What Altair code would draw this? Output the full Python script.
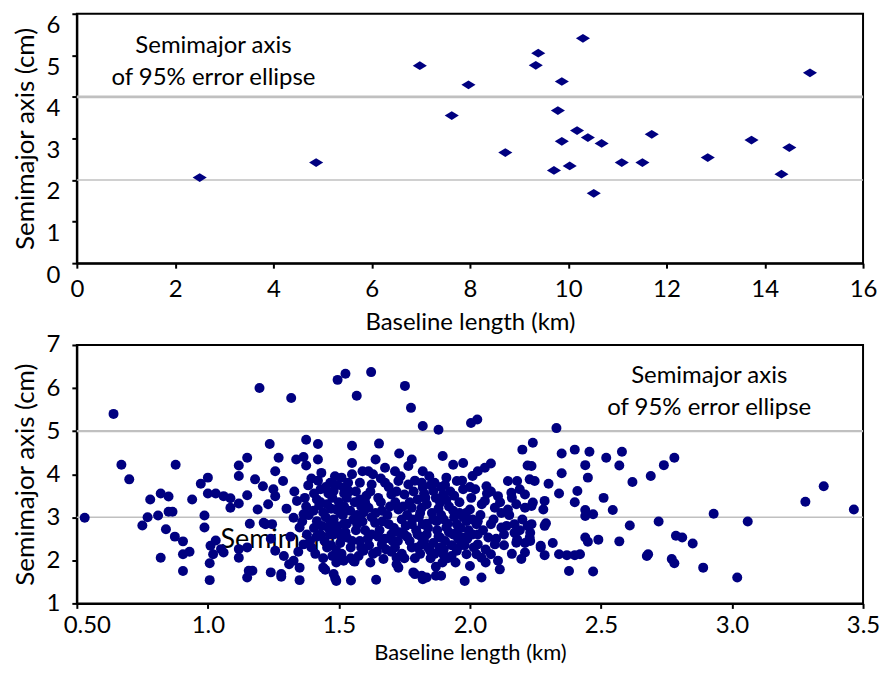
import altair as alt
import pandas as pd

# ---------------- Top panel data (longer baselines) ----------------
top_baseline_km = [2.50, 4.87, 6.98, 7.63, 7.97, 8.72, 9.34, 9.39, 9.71, 9.79, 9.87, 9.87, 10.03,
                   10.18, 10.30, 10.40, 10.52, 10.68, 11.09, 11.51, 11.70, 12.84, 13.73, 14.34,
                   14.50, 14.92]
top_semimajor_cm = [2.06, 2.42, 4.75, 3.55, 4.29, 2.66, 4.76, 5.05, 2.23, 3.67, 4.37, 2.93, 2.34,
                    3.19, 5.41, 3.02, 1.68, 2.88, 2.42, 2.42, 3.10, 2.54, 2.96, 2.14, 2.78, 4.58]
top_rule_levels = [4, 2]
top_x_ticks = [0, 2, 4, 6, 8, 10, 12, 14, 16]
top_y_ticks = [0, 1, 2, 3, 4, 5, 6]

# ---------------- Bottom panel data (short baselines) ----------------
high_pts = [(0.64, 5.40), (1.197, 6.00), (1.318, 5.77), (1.495, 6.19), (1.525, 6.33), (1.568, 5.82),
            (1.623, 6.37), (1.752, 6.05), (1.775, 5.54), (1.82, 5.12), (1.88, 5.03), (2.004, 5.19),
            (2.028, 5.27), (2.33, 5.07)]

left_pts = [(0.53, 2.99), (0.67, 4.22), (0.70, 3.88), (0.75, 2.81), (0.77, 3.00), (0.78, 3.41),
            (0.81, 3.04), (0.82, 3.55), (0.82, 2.06), (0.84, 2.72), (0.85, 3.48), (0.85, 3.13),
            (0.865, 3.13), (0.874, 2.55), (0.877, 4.22), (0.905, 2.44), (0.905, 2.14), (0.905, 1.75),
            (0.93, 2.20), (0.94, 3.41), (0.973, 3.78), (0.987, 3.04), (0.987, 2.76), (1.0, 3.92),
            (1.0, 3.55), (1.007, 1.93), (1.007, 1.54), (1.01, 2.34), (1.02, 2.14), (1.03, 2.46),
            (1.03, 3.55), (1.05, 2.26), (1.06, 2.18), (1.06, 3.49), (1.086, 3.44), (1.086, 3.22),
            (1.118, 3.32), (1.118, 3.96), (1.118, 4.20), (1.118, 2.26), (1.118, 2.06), (1.15, 4.38),
            (1.15, 3.51), (1.15, 2.30), (1.156, 1.76), (1.15, 1.60), (1.16, 2.85), (1.17, 1.76),
            (1.18, 3.88), (1.19, 3.18), (1.21, 3.72), (1.213, 2.87), (1.22, 2.84), (1.236, 4.70),
            (1.24, 1.72), (1.25, 3.65), (1.245, 2.84), (1.23, 3.30), (1.24, 2.50)]

core_pts = [(1.27, 4.38), (1.337, 4.34), (1.365, 4.40), (1.375, 4.20), (1.375, 4.80), (1.42, 4.70),
            (1.42, 4.34), (1.257, 4.07), (1.287, 3.84), (1.433, 4.03), (1.55, 4.26), (1.55, 4.66),
            (1.64, 4.34), (1.653, 4.71), (1.73, 4.48), (1.778, 4.34), (1.82, 4.07), (1.59, 4.07),
            (1.383, 3.74), (1.28, 1.62), (1.35, 1.54), (1.448, 1.78), (1.486, 1.58), (1.546, 1.53),
            (1.642, 1.55), (1.56, 1.97), (1.62, 1.95), (1.784, 1.72), (1.82, 1.56), (1.72, 1.91),
            (1.257, 3.49), (1.34, 3.38), (1.37, 3.45), (1.327, 2.99), (1.365, 3.07), (1.35, 2.76),
            (1.378, 2.60), (1.365, 2.37), (1.257, 2.22), (1.29, 2.10), (1.327, 1.99), (1.35, 1.83),
            (1.31, 1.91), (1.28, 1.68),
            (1.51, 3.92), (1.55, 4.00), (1.467, 3.80), (1.43, 3.65), (1.48, 3.61), (1.518, 3.69),
            (1.403, 3.15), (1.44, 3.11), (1.49, 3.18), (1.543, 3.15), (1.594, 3.11), (1.416, 2.91),
            (1.467, 2.91), (1.518, 2.84), (1.57, 2.84), (1.43, 2.60), (1.48, 2.60), (1.53, 2.53),
            (1.58, 2.45), (1.455, 2.30), (1.49, 2.22), (1.594, 2.22), (1.44, 1.83), (1.49, 1.95),
            (1.518, 1.99), (1.555, 1.99), (1.48, 1.68), (1.49, 1.52), (1.53, 3.45), (1.58, 3.41),
            (1.416, 3.41), (1.455, 3.30),
            (1.613, 4.07), (1.676, 4.15), (1.714, 4.07), (1.765, 4.19), (1.625, 3.76), (1.676, 3.80),
            (1.727, 3.84), (1.765, 3.76), (1.816, 3.80), (1.65, 3.45), (1.70, 3.53), (1.75, 3.53),
            (1.80, 3.41), (1.613, 3.22), (1.664, 3.15), (1.727, 3.18), (1.778, 3.22), (1.816, 3.22),
            (1.638, 2.87), (1.69, 2.84), (1.74, 2.95), (1.778, 2.84), (1.625, 2.60), (1.70, 2.60),
            (1.75, 2.60), (1.80, 2.60), (1.664, 2.37), (1.714, 2.30), (1.778, 2.30), (1.816, 2.37),
            (1.67, 2.03), (1.72, 2.06), (1.727, 1.83), (1.79, 1.68), (1.816, 1.64),
            (1.896, 4.42), (1.936, 4.22), (1.974, 4.26), (1.91, 3.92), (1.95, 3.84), (2.01, 3.96),
            (1.82, 3.69), (1.86, 3.61), (1.898, 3.53), (1.974, 3.65), (2.02, 3.65), (1.835, 3.30),
            (1.886, 3.34), (1.936, 3.15), (2.0, 3.18), (1.82, 2.84), (1.873, 2.91), (1.91, 2.76),
            (1.95, 2.84), (1.987, 2.91), (2.025, 2.84), (1.835, 2.60), (1.886, 2.53), (1.936, 2.60),
            (1.974, 2.53), (2.01, 2.60), (1.848, 2.22), (1.898, 2.14), (1.95, 2.22), (1.987, 2.14),
            (2.025, 2.14), (1.835, 1.60), (1.87, 1.64), (1.89, 1.64), (1.98, 1.52), (2.0, 1.87),
            (2.08, 4.25), (2.22, 4.20), (2.24, 4.73), (2.20, 4.57), (2.03, 4.07), (2.057, 4.15),
            (2.145, 3.84), (2.18, 3.84), (2.228, 3.88), (2.063, 3.72), (2.107, 3.49), (2.158, 3.57),
            (2.21, 3.53), (2.057, 3.38), (2.095, 3.22), (2.145, 3.18), (2.177, 3.30), (2.21, 3.22),
            (2.235, 3.26), (2.03, 2.91), (2.08, 2.84), (2.12, 2.76), (2.17, 2.84), (2.22, 2.80),
            (2.07, 2.53), (2.13, 2.60), (2.18, 2.49), (2.228, 2.53), (2.03, 2.37), (2.095, 2.37),
            (2.177, 2.41), (2.044, 2.06), (2.08, 2.14), (2.107, 1.99), (2.044, 1.60), (2.114, 1.79),
            (2.196, 2.03), (2.21, 2.18), (2.06, 1.95),
            (2.35, 4.48), (2.40, 4.57), (2.35, 4.02), (2.30, 3.78), (2.34, 3.55), (2.41, 3.61),
            (2.40, 3.35), (2.285, 3.38), (2.28, 3.18), (2.29, 2.86), (2.316, 2.40), (2.27, 2.30),
            (2.285, 2.12), (2.34, 2.14), (2.37, 2.12), (2.40, 2.12), (2.378, 1.75), (2.17, 2.64),
            (2.23, 2.64), (2.23, 2.45), (2.235, 4.19), (2.247, 3.84), (2.24, 3.34), (2.44, 3.03),
            (2.235, 2.84), (2.285, 2.80), (2.27, 2.34)]

core_hidden_pts = [(1.405, 2.75), (1.425, 3.28), (1.445, 2.45), (1.46, 3.55), (1.475, 2.10),
                   (1.49, 2.80), (1.50, 3.35), (1.505, 2.40), (1.515, 3.05), (1.525, 2.65),
                   (1.535, 3.80), (1.545, 2.30), (1.555, 2.95), (1.565, 3.60), (1.575, 2.10),
                   (1.585, 3.25), (1.60, 2.70), (1.605, 3.50), (1.615, 2.35), (1.625, 3.00),
                   (1.63, 4.00), (1.645, 2.20), (1.655, 2.70), (1.66, 3.35), (1.675, 2.50),
                   (1.685, 3.05), (1.69, 3.70), (1.70, 2.20), (1.71, 2.75), (1.715, 3.35),
                   (1.725, 2.45), (1.735, 3.95), (1.74, 2.15), (1.755, 2.80), (1.76, 3.05),
                   (1.77, 2.45), (1.785, 3.60), (1.79, 2.05), (1.795, 2.70), (1.805, 3.00),
                   (1.81, 2.15), (1.825, 2.45), (1.83, 3.45), (1.84, 2.75), (1.845, 3.95),
                   (1.85, 2.05), (1.855, 3.10), (1.86, 2.40), (1.865, 3.80), (1.87, 1.85),
                   (1.875, 2.70), (1.88, 3.20), (1.885, 2.30), (1.89, 3.70), (1.895, 1.95),
                   (1.90, 2.95), (1.905, 2.45), (1.91, 3.40), (1.915, 2.05), (1.92, 2.65),
                   (1.925, 3.60), (1.93, 2.35), (1.94, 3.00), (1.945, 1.95), (1.955, 2.50),
                   (1.96, 3.35), (1.965, 2.75), (1.97, 3.85), (1.98, 2.35), (1.985, 3.10),
                   (1.995, 2.70), (2.005, 3.45), (2.015, 2.30), (2.04, 3.05), (2.05, 2.70),
                   (2.065, 3.55), (2.09, 2.95), (2.115, 3.35), (2.13, 2.35), (2.15, 3.05),
                   (2.16, 2.15), (2.19, 3.65), (2.20, 2.95), (1.30, 3.20), (1.315, 2.55),
                   (1.33, 3.60), (1.345, 2.20), (1.36, 2.90), (1.375, 3.25), (1.39, 2.45),
                   (1.395, 3.90), (1.41, 2.15), (1.42, 3.85), (1.435, 2.80), (1.45, 3.00),
                   (1.465, 2.60), (1.47, 3.20), (1.485, 3.95), (1.495, 2.05), (1.51, 2.55),
                   (1.52, 3.55)]

core_hidden_pts_2 = [(1.385, 3.05), (1.395, 2.30), (1.405, 3.55), (1.415, 2.55), (1.43, 3.35),
                     (1.44, 2.05), (1.45, 3.70), (1.46, 2.75), (1.47, 2.35), (1.475, 3.45),
                     (1.48, 2.95), (1.495, 3.75), (1.50, 2.65), (1.505, 3.10), (1.51, 2.15),
                     (1.52, 3.25), (1.53, 2.85), (1.54, 3.60), (1.545, 2.05), (1.55, 2.45),
                     (1.56, 3.35), (1.565, 2.70), (1.57, 3.05), (1.58, 3.80), (1.585, 2.30),
                     (1.59, 2.90), (1.60, 3.35), (1.61, 2.50), (1.62, 3.60), (1.63, 2.15),
                     (1.64, 3.10), (1.65, 2.55), (1.66, 3.90), (1.665, 2.90), (1.68, 2.25),
                     (1.695, 3.25), (1.705, 2.45), (1.72, 3.60), (1.73, 2.65), (1.745, 3.25),
                     (1.75, 2.05), (1.76, 2.55), (1.77, 3.35), (1.78, 2.95), (1.79, 3.85),
                     (1.80, 2.30), (1.81, 3.10), (1.815, 2.55), (1.825, 3.55), (1.835, 2.85),
                     (1.84, 2.30), (1.85, 3.75), (1.86, 2.95), (1.865, 2.15), (1.87, 3.45),
                     (1.88, 2.55), (1.89, 3.05), (1.90, 2.25), (1.905, 3.75), (1.915, 2.85),
                     (1.92, 3.25), (1.93, 2.10), (1.94, 3.50), (1.95, 2.65), (1.96, 3.10),
                     (1.965, 2.35), (1.975, 3.00), (1.99, 2.50), (2.0, 3.70), (2.01, 2.95),
                     (2.03, 2.60), (2.045, 3.30), (2.06, 2.25), (2.08, 3.60), (2.10, 2.50),
                     (2.12, 3.10), (2.14, 2.80), (2.16, 3.45), (2.19, 2.70), (2.21, 2.40)]

right_pts = [(2.456, 4.52), (2.52, 4.38), (2.58, 4.52), (2.57, 4.20), (2.44, 4.21), (2.45, 3.92),
             (2.78, 4.38), (2.74, 4.21), (2.69, 3.96), (2.62, 3.82), (2.51, 3.45), (2.545, 3.17),
             (2.44, 3.17), (2.47, 3.07), (2.61, 2.81), (2.72, 2.90), (2.44, 2.53), (2.45, 2.43),
             (2.49, 2.48), (2.57, 2.44), (2.786, 2.57), (2.81, 2.53), (2.85, 2.39), (2.68, 2.14),
             (2.675, 2.10), (2.77, 2.03), (2.78, 1.93), (2.89, 1.83), (2.47, 1.74), (2.93, 3.08),
             (3.06, 2.90), (3.02, 1.60), (3.28, 3.36), (3.35, 3.72), (3.465, 3.18), (2.42, 2.14)]

bottom_rule_levels = [5, 3]
bottom_x_ticks = [0.5, 1.0, 1.5, 2.0, 2.5, 3.0, 3.5]
bottom_y_ticks = [1, 2, 3, 4, 5, 6, 7]

annotation_lines = ["Semimajor axis", "of 95% error ellipse"]

# ---------------- Build tables ----------------
top_df = pd.DataFrame({"km": top_baseline_km, "cm": top_semimajor_cm})
all_bottom = high_pts + left_pts + core_pts + core_hidden_pts + core_hidden_pts_2 + right_pts
bot_df = pd.DataFrame({"km": [p[0] for p in all_bottom], "cm": [p[1] for p in all_bottom]})

FONT = "Lato"
NAVY = "#000080"
GRID = "#c0c0c0"

# ---------------- Top panel ----------------
tx = alt.X("km:Q", scale=alt.Scale(domain=[0, 16], nice=False, zero=False),
           axis=alt.Axis(values=top_x_ticks, title="Baseline length (km)", format="d",
                         labelFlush=False, labelPadding=9, titlePadding=9))
ty = alt.Y("cm:Q", scale=alt.Scale(domain=[0, 6], nice=False),
           axis=alt.Axis(values=top_y_ticks, title="Semimajor axis (cm)", format="d",
                         labelBaseline="top"))

top_rules_df = pd.DataFrame({"cm": top_rule_levels, "w": [2.6, 1.7]})
top_rules = alt.Chart(top_rules_df).mark_rule(color=GRID).encode(
    y=alt.Y("cm:Q", scale=alt.Scale(domain=[0, 6])),
    strokeWidth=alt.StrokeWidth("w:Q", scale=None, legend=None))

top_ann_df = pd.DataFrame({"km": [2.78, 2.78], "cm": [5.23, 4.46], "t": annotation_lines})
top_ann = alt.Chart(top_ann_df).mark_text(font=FONT, fontSize=24, color="black", align="center",
                                          baseline="middle").encode(
    x=alt.X("km:Q"), y=alt.Y("cm:Q"), text="t:N")

top_pts = alt.Chart(top_df).mark_point(shape="M-1,0L0,-0.62L1,0L0,0.62Z", filled=True, color=NAVY,
                                       size=200, opacity=1, strokeWidth=0).encode(x=tx, y=ty)

top = alt.layer(top_rules, top_ann, top_pts).properties(width=788, height=250)

# ---------------- Bottom panel ----------------
bx = alt.X("km:Q", scale=alt.Scale(domain=[0.5, 3.5], nice=False, zero=False),
           axis=alt.Axis(values=bottom_x_ticks, title="Baseline length (km)",
                         labelFlush=False, labelPadding=5, titlePadding=5, titleFontSize=22,
                         labelOffset={"condition": {"test": "datum.value == 0.5", "value": 10},
                                      "value": 0},
                         labelExpr="datum.value == 0.5 ? '0.50' : format(datum.value, '.1f')"))
by = alt.Y("cm:Q", scale=alt.Scale(domain=[1, 7], nice=False, zero=False),
           axis=alt.Axis(values=bottom_y_ticks, title="Semimajor axis (cm)", format="d"))

bot_rules_df = pd.DataFrame({"cm": bottom_rule_levels, "w": [2.3, 1.7]})
bot_rules = alt.Chart(bot_rules_df).mark_rule(color=GRID).encode(
    y=alt.Y("cm:Q", scale=alt.Scale(domain=[1, 7])),
    strokeWidth=alt.StrokeWidth("w:Q", scale=None, legend=None))

bot_ann_df = pd.DataFrame({"km": [2.913, 2.913], "cm": [6.28, 5.54], "t": annotation_lines})
bot_ann = alt.Chart(bot_ann_df).mark_text(font=FONT, fontSize=24, color="black", align="center",
                                          baseline="middle").encode(
    x=alt.X("km:Q"), y=alt.Y("cm:Q"), text="t:N")

stray_df = pd.DataFrame({"km": [1.048], "cm": [2.48], "t": ["Semimajor"]})
stray = alt.Chart(stray_df).mark_text(font=FONT, fontSize=27, color="black", align="left",
                                      baseline="middle").encode(
    x=alt.X("km:Q"), y=alt.Y("cm:Q"), text="t:N")

bot_pts = alt.Chart(bot_df).mark_circle(color=NAVY, size=100, opacity=1).encode(x=bx, y=by)

bottom = alt.layer(bot_rules, bot_ann, stray, bot_pts).properties(width=788, height=259)

chart = alt.vconcat(top, bottom, spacing=-3).properties(
    padding={"left": 4, "top": 3, "right": 0, "bottom": 0}
).configure(
    font=FONT
).configure_view(
    stroke="black", strokeWidth=2
).configure_axis(
    grid=False, domainColor="black", domainWidth=2, tickColor="black", tickWidth=2, tickSize=5,
    labelFont=FONT, labelFontSize=24, labelColor="black", titleFont=FONT, titleColor="black",
    titleFontWeight="normal"
).configure_axisX(
    titleFontSize=24
).configure_axisY(
    labelPadding=12, titleFontSize=26, titlePadding=8, minExtent=30, maxExtent=30
)

chart.save("out.html", embed_options={"renderer": "svg", "actions": False})
